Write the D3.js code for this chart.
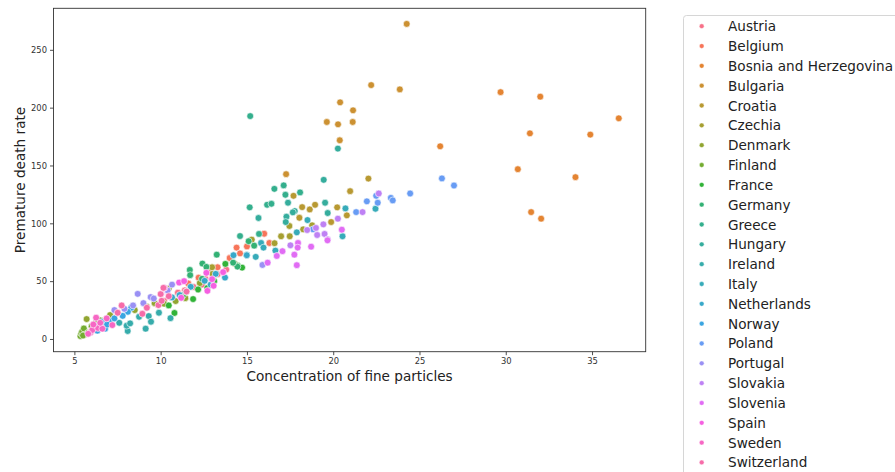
<!DOCTYPE html>
<html lang="en">
<head>
<meta charset="utf-8">
<title>Fine particles vs premature deaths</title>
<script src="https://cdn.jsdelivr.net/npm/d3@7"></script>
<style>
  body { margin: 0; background: #fff; }
  svg { font-family: "DejaVu Sans", sans-serif; }
</style>
</head>
<body>
<script>
"use strict";

// country names, in legend order
const countries = ["Austria", "Belgium", "Bosnia and Herzegovina", "Bulgaria", "Croatia",
  "Czechia", "Denmark", "Finland", "France", "Germany", "Greece", "Hungary", "Ireland",
  "Italy", "Netherlands", "Norway", "Poland", "Portugal", "Slovakia", "Slovenia",
  "Spain", "Sweden", "Switzerland"];

// [concentration of fine particles, premature death rate]
const austria = [[13.8,60],[13.3,56],[12.6,52],[12.4,47],[11.9,45],[11.4,42],[11.0,40],[10.6,36],[10.2,33],[9.8,30]];
const belgium = [[16.0,91],[16.3,83],[15.0,80],[14.4,79],[14.6,74],[14.0,70],[13.3,62],[12.9,60],[12.2,53],[11.6,48]];
const bosnia = [[29.7,213.4],[32.0,209.5],[36.55,190.8],[31.4,177.8],[34.9,176.7],[26.2,166.6],[30.7,146.8],[34.04,139.9],[31.47,109.7],[32.05,104]];
const bulgaria = [[24.26,272.4],[22.2,219.5],[23.86,215.8],[20.4,204.6],[21.15,197.7],[19.63,187.6],[20.28,185.6],[21.13,187.6],[20.38,171.8],[17.27,142.5]];
const croatia = [[22.04,138.7],[20.98,127.8],[17.7,123.8],[18.2,114],[18.64,112],[18.95,116],[20.23,113.8],[20.79,106.9],[19.88,101.1],[18.04,104.8]];
const czechia = [[17.46,97.7],[18.26,94.8],[18.78,98.3],[17.48,88.8],[16.98,88.8],[16.6,82.8],[15.28,85.9],[14.3,65],[12.98,62],[13.0,56.3]];
const denmark = [[10.87,32.8],[10.47,43.6],[11.43,35.3],[9.65,31],[7.07,20.7],[5.71,17.2],[12.27,48.3],[8.5,25],[9.2,28],[10.2,30.5]];
const finland = [[5.35,2.5],[5.4,4.8],[5.45,6.2],[5.55,9.1],[5.6,3.8],[6.0,11],[5.8,5.5],[6.24,14],[6.5,16],[5.5,3]];
const france = [[14.47,63.4],[14.72,61.7],[13.75,64.9],[12.17,42.8],[11.88,34.5],[10.47,29],[10.8,22.5],[12.7,44],[13.1,50],[11.3,38]];
const germany = [[15.1,84.5],[15.42,80.7],[13.25,72.9],[11.69,59.7],[11.71,55.2],[12.42,65.2],[12.65,62.3],[14.45,62.6],[12.4,52],[14.2,66]];
const greece = [[15.19,192.7],[16.59,129.8],[17.13,132.8],[17.23,124.7],[18.08,126.7],[15.16,113.8],[16.17,116],[16.42,116.9],[14.6,89],[15.7,90.8]];
const hungary = [[20.27,164.6],[19.45,137.6],[17.38,117.8],[17.77,110.6],[17.66,109.5],[17.29,105.7],[17.25,101.1],[15.67,104.6],[19.53,117.8],[19.68,108.9]];
const ireland = [[8.09,6.9],[8.03,11.5],[8.23,13.5],[8.75,19.2],[9.13,8.9],[9.31,19.8],[9.44,14.9],[10.57,18],[7.6,14],[9.9,22.7]];
const italy = [[22.45,112.6],[20.71,112.9],[20.54,88.8],[18.51,102.8],[17.89,92.2],[15.82,83],[15.96,79],[16.65,76.4],[14.99,72.7],[15.51,71]];
const netherlands = [[14.22,72.4],[13.73,53.1],[12.55,50.3],[13.19,56.3],[11.74,45.1],[11.47,40.8],[10.66,35.9],[12.9,47],[14.99,72.4],[11.1,38]];
const norway = [[6.31,11.2],[6.33,7.2],[6.6,14.7],[6.78,8.9],[7.13,15.5],[7.32,17.8],[8.3,27],[8.1,23.5],[7.8,20],[6.9,12.5]];
const poland = [[26.3,138.8],[27.0,132.7],[24.46,125.8],[23.34,122],[23.45,119.8],[22.49,123.8],[22.58,117.8],[21.95,119],[21.33,109.7],[18.83,94.8]];
const portugal = [[15.9,64],[10.66,47],[8.67,39],[9.42,36.2],[9.0,31],[8.4,29],[7.9,26.1],[7.32,25],[10.4,42],[9.6,35]];
const slovakia = [[22.64,125.8],[21.7,109.7],[20.27,104],[19.43,99.1],[19.0,96],[18.49,94.2],[19.07,89.9],[19.5,90.8],[19.68,86.2],[17.52,81]];
const slovenia = [[19.67,85.3],[17.96,83],[17.94,79],[17.06,75.9],[18.72,79.8],[17.75,72.9],[16.73,71.8],[17.89,63.8],[20.5,94.5],[16.2,66]];
const spain = [[11.07,48.8],[11.36,50],[10.22,44.2],[10.03,39],[11.19,35.6],[12.65,57.2],[12.98,51.7],[12.71,41.6],[13.62,57.8],[13.07,46]];
const sweden = [[5.93,5.7],[6.04,7.8],[6.37,9.5],[6.62,8.9],[6.26,18.4],[6.87,17.8],[5.8,4.5],[7.2,12],[6.1,12.5],[6.5,14]];
const switzerland = [[7.74,29],[7.51,22.7],[8.94,21.8],[10.0,38.8],[10.16,44.2],[9.87,29.3],[10.06,33],[10.47,37],[9.2,27],[11.5,41]];

const seriesValues = [austria, belgium, bosnia, bulgaria, croatia, czechia, denmark, finland,
  france, germany, greece, hungary, ireland, italy, netherlands, norway, poland, portugal,
  slovakia, slovenia, spain, sweden, switzerland];

const xTicks = [5, 10, 15, 20, 25, 30, 35];
const yTicks = [0, 50, 100, 150, 200, 250];

// husl palette (same maths as seaborn's husl_palette)
const M = [[3.2406, -1.5372, -0.4986], [-0.9689, 1.8758, 0.0415], [0.0557, -0.2040, 1.0570]];
const refU = 0.19784, refV = 0.46834, refY = 1.0;

function maxChroma(L, H) {
  let hrad = H / 360 * 2 * Math.PI;
  let sinH = Math.sin(hrad), cosH = Math.cos(hrad);
  let sub1 = Math.pow(L + 16, 3) / 1560896;
  let sub2 = sub1 > 0.008856 ? sub1 : L / 903.3;
  let result = Infinity;
  M.forEach(function(row) {
    let tp = (0.99915 * row[0] + 1.05122 * row[1] + 1.14460 * row[2]) * sub2;
    let rbottom = 0.86330 * row[2] - 0.17266 * row[1];
    let lbottom = 0.12949 * row[2] - 0.38848 * row[0];
    let bt = (rbottom * sinH + lbottom * cosH) * sub2;
    [0, 1].forEach(function(t) {
      let C = L * (tp - 1.05122 * t) / (bt + 0.17266 * sinH * t);
      if (C > 0 && C < result) result = C;
    });
  });
  return result;
}

function fInv(t) {
  return Math.pow(t, 3) > 0.008856 ? Math.pow(t, 3) : (116 * t - 16) / 903.3;
}

function fromLinear(c) {
  return c <= 0.0031308 ? 12.92 * c : 1.055 * Math.pow(c, 1 / 2.4) - 0.055;
}

function huslToRgb(H, S, L) {
  let C = maxChroma(L, H) / 100 * S;
  let hrad = H / 360 * 2 * Math.PI;
  let U = Math.cos(hrad) * C, V = Math.sin(hrad) * C;
  let Y = fInv((L + 16) / 116) * refY;
  let varU = U / (13 * L) + refU;
  let varV = V / (13 * L) + refV;
  let X = 0 - (9 * Y * varU) / ((varU - 4) * varV - varU * varV);
  let Z = (9 * Y - 15 * varV * Y - varV * X) / (3 * varV);
  let rgb = M.map(function(r) {
    let v = fromLinear(r[0] * X + r[1] * Y + r[2] * Z);
    return Math.round(Math.max(0, Math.min(1, v)) * 255);
  });
  return d3.rgb(rgb[0], rgb[1], rgb[2]).formatHex();
}

let n = countries.length;
let palette = d3.range(n).map(function(i) {
  let hue = ((i / n + 0.01) % 1) * 359;
  return huslToRgb(hue, 0.9 * 99, 0.65 * 99);
});
let color = d3.scaleOrdinal().domain(countries).range(palette);

// flat list of points, drawn in data order
let points = [];
seriesValues.forEach(function(vals, i) {
  vals.forEach(function(v) {
    points.push({country: countries[i], x: v[0], y: v[1]});
  });
});

let w = 895, h = 472;
let mLeft = 53.5, mRight = 645.7, mTop = 8.3, mBottom = 351.7;

function padded(ext) {
  let r = ext[1] - ext[0];
  return [ext[0] - 0.05 * r, ext[1] + 0.05 * r];
}

let x = d3.scaleLinear()
  .domain(padded(d3.extent(points, function(d) { return d.x; })))
  .range([mLeft, mRight]);
let y = d3.scaleLinear()
  .domain(padded(d3.extent(points, function(d) { return d.y; })))
  .range([mBottom, mTop]);

let svg = d3.select("body").append("svg")
  .attr("width", w)
  .attr("height", h);

// axes
let xAxis = svg.append("g")
  .attr("transform", "translate(0," + mBottom + ")")
  .call(d3.axisBottom(x).tickValues(xTicks).tickSize(3.5).tickPadding(3));
let yAxis = svg.append("g")
  .attr("transform", "translate(" + mLeft + ",0)")
  .call(d3.axisLeft(y).tickValues(yTicks).tickSize(3.5).tickPadding(3));

[xAxis, yAxis].forEach(function(ax) {
  ax.select(".domain").remove();
  ax.selectAll("line").attr("stroke", "#222").attr("stroke-width", 0.8);
  ax.selectAll("text")
    .attr("fill", "#333")
    .style("font-size", "8.4px")
    .style("font-family", "DejaVu Sans");
});

// points
svg.append("g")
  .selectAll("circle")
  .data(points)
  .enter()
  .append("circle")
  .attr("cx", function(d) { return x(d.x); })
  .attr("cy", function(d) { return y(d.y); })
  .attr("r", 3.4)
  .attr("fill", function(d) { return color(d.country); })
  .attr("stroke", "#fff")
  .attr("stroke-width", 0.6);

// frame
svg.append("rect")
  .attr("x", mLeft)
  .attr("y", mTop)
  .attr("width", mRight - mLeft)
  .attr("height", mBottom - mTop)
  .attr("fill", "none")
  .attr("stroke", "#333")
  .attr("stroke-width", 0.9);

// axis titles
svg.append("text")
  .attr("x", (mLeft + mRight) / 2)
  .attr("y", 380.5)
  .attr("text-anchor", "middle")
  .style("font-size", "13.6px")
  .attr("fill", "#222")
  .text("Concentration of fine particles");

svg.append("text")
  .attr("transform", "translate(25," + ((mTop + mBottom) / 2) + ") rotate(-90)")
  .attr("text-anchor", "middle")
  .style("font-size", "13.6px")
  .attr("fill", "#222")
  .text("Premature death rate");

// legend
let legend = svg.append("g");
legend.append("rect")
  .attr("x", 683.5)
  .attr("y", 15.5)
  .attr("width", 300)
  .attr("height", 500)
  .attr("rx", 3)
  .attr("fill", "#fff")
  .attr("stroke", "#d6d6d6")
  .attr("stroke-width", 1);

let rows = legend.selectAll(".row")
  .data(countries)
  .enter()
  .append("g")
  .attr("transform", function(d, i) { return "translate(0," + (26.2 + i * 19.83) + ")"; });

rows.append("circle")
  .attr("cx", 701.7)
  .attr("cy", 0)
  .attr("r", 2.4)
  .attr("fill", function(d) { return color(d); })
  .attr("stroke", "#fff")
  .attr("stroke-width", 0.4);

rows.append("text")
  .attr("x", 728)
  .attr("y", 5)
  .style("font-size", "13.6px")
  .attr("fill", "#222")
  .text(function(d) { return d; });
</script>
</body>
</html>
